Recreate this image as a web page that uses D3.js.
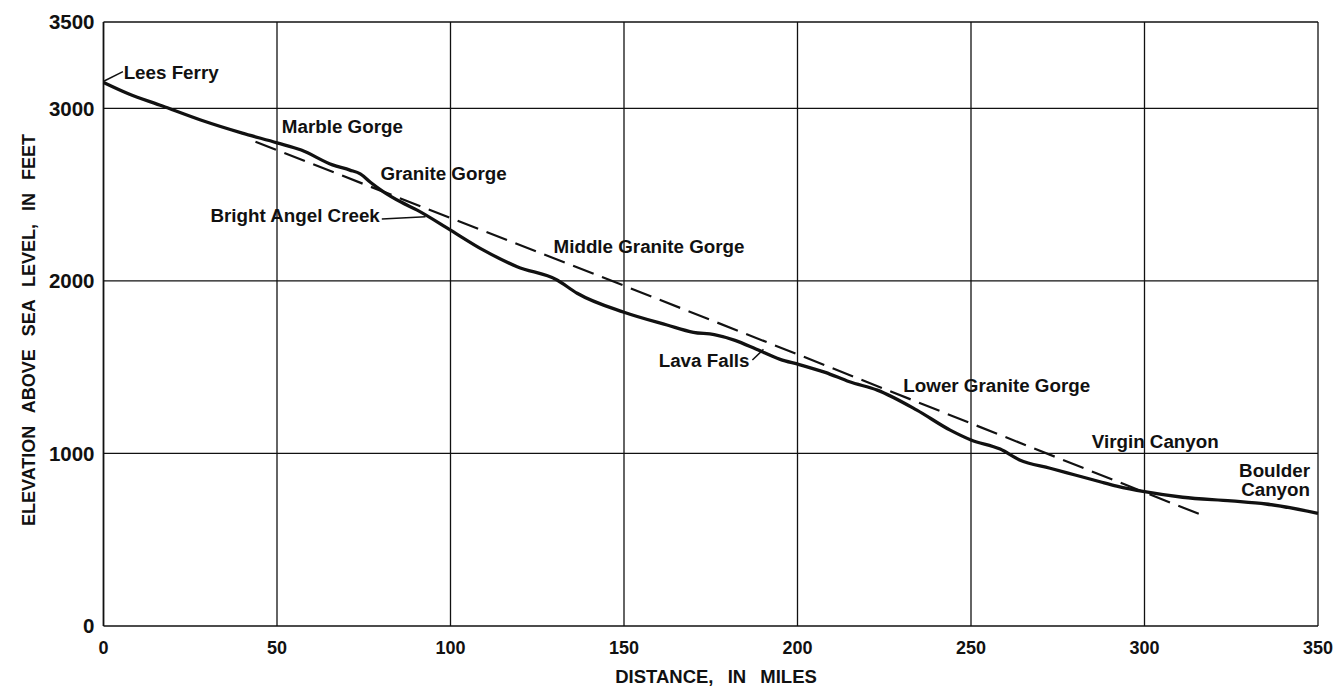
<!DOCTYPE html>
<html>
<head>
<meta charset="utf-8">
<script src="https://cdn.jsdelivr.net/npm/d3@7/dist/d3.min.js"></script>
<style>
  html, body { margin: 0; padding: 0; background: #fff; }
  svg text { font-family: "Liberation Sans", Arial, Helvetica, sans-serif; font-weight: bold; fill: #111; }
</style>
</head>
<body>
<svg id="chart" width="1343" height="688"></svg>
<script>
// River profile: distance below Lees Ferry (miles) and water-surface elevation (feet)
const riverMiles = [0, 7, 17, 28, 40, 50, 57, 66, 71, 74, 77, 80.7, 85.6, 90.4, 100, 109.5, 119.2, 130.7, 136.5, 150, 162.4, 170, 176, 182, 188, 195, 200.5, 208, 215, 223, 234.4, 244, 250, 258.4, 264, 272.8, 280, 287.2, 292, 300, 311, 325, 335, 350];
const riverElev  = [3150, 3086, 3013, 2932, 2856, 2800, 2758, 2672, 2642, 2620, 2570, 2516, 2458, 2410, 2294, 2178, 2082, 2005, 1928, 1818, 1744, 1702, 1688, 1655, 1605, 1545, 1515, 1470, 1415, 1367, 1251, 1135, 1078, 1025, 962, 914, 875, 836, 811, 778, 746, 725, 707, 653];

// Average-gradient line (dashed)
const gradeMiles = [43.8, 150, 200.8, 250, 316.5];
const gradeElev  = [2806, 1972, 1568, 1174, 643];

// Axis ticks
const xTicks = [0, 50, 100, 150, 200, 250, 300, 350];
const yTicks = [0, 1000, 2000, 3000, 3500];
const yGrid  = [1000, 2000, 3000];

// Place names along the river
const placeNames = ["Lees Ferry", "Marble Gorge", "Granite Gorge", "Bright Angel Creek",
                    "Middle Granite Gorge", "Lava Falls", "Lower Granite Gorge",
                    "Virgin Canyon", "Boulder Canyon"];

const svg = d3.select("#chart");
const x = d3.scaleLinear().domain([0, 350]).range([103.5, 1318]);
const y = d3.scaleLinear().domain([0, 3500]).range([626, 22]);

const grid = svg.append("g").attr("stroke", "#111").attr("stroke-width", 1.3).attr("fill", "none");

// vertical grid lines + frame sides
grid.selectAll("line.v").data(xTicks).join("line")
  .attr("x1", d => x(d)).attr("x2", d => x(d))
  .attr("y1", y(0)).attr("y2", y(3500))
  .attr("stroke-width", d => (d === 0 ? 1.8 : 1.3));

// horizontal grid lines
grid.selectAll("line.h").data(yGrid).join("line")
  .attr("x1", x(0)).attr("x2", x(350))
  .attr("y1", d => y(d)).attr("y2", d => y(d));

// top and bottom of frame
grid.selectAll("line.f").data([0, 3500]).join("line")
  .attr("x1", x(0)).attr("x2", x(350))
  .attr("y1", d => y(d)).attr("y2", d => y(d))
  .attr("stroke-width", 1.6);

// tick labels
svg.append("g").selectAll("text").data(xTicks).join("text")
  .attr("x", d => x(d)).attr("y", y(0) + 28)
  .attr("text-anchor", "middle").attr("font-size", 18)
  .text(d => d);

svg.append("g").selectAll("text").data(yTicks).join("text")
  .attr("x", x(0) - 9).attr("y", d => y(d)).attr("dy", "0.36em")
  .attr("text-anchor", "end").attr("font-size", 20.5)
  .text(d => d);

// axis titles
svg.append("text")
  .attr("x", 716).attr("y", 683)
  .attr("text-anchor", "middle").attr("font-size", 18.5)
  .attr("word-spacing", 9)
  .text("DISTANCE, IN MILES");

svg.append("text")
  .attr("transform", `translate(35, 330) rotate(-90)`)
  .attr("text-anchor", "middle").attr("font-size", 18)
  .attr("word-spacing", 8)
  .text("ELEVATION ABOVE SEA LEVEL, IN FEET");

// river profile
const river = riverMiles.map((m, i) => [m, riverElev[i]]);
const grade = gradeMiles.map((m, i) => [m, gradeElev[i]]);
const line = d3.line().x(d => x(d[0])).y(d => y(d[1])).curve(d3.curveMonotoneX);

svg.append("path").datum(grade)
  .attr("d", d3.line().x(d => x(d[0])).y(d => y(d[1])))
  .attr("fill", "none").attr("stroke", "#111").attr("stroke-width", 2.2)
  .attr("stroke-dasharray", "22 9");

svg.append("path").datum(river)
  .attr("d", line)
  .attr("fill", "none").attr("stroke", "#111").attr("stroke-width", 3.3)
  .attr("stroke-linejoin", "round");

// place-name annotations (data coordinates)
const labels = svg.append("g").attr("font-size", 18.8);
function label(name, mi, ft, anchor) {
  return labels.append("text").attr("x", x(mi)).attr("y", y(ft))
    .attr("text-anchor", anchor || "start").text(name);
}
function leader(m1, f1, m2, f2) {
  labels.append("line")
    .attr("x1", x(m1)).attr("y1", y(f1)).attr("x2", x(m2)).attr("y2", y(f2))
    .attr("stroke", "#111").attr("stroke-width", 1.5);
}

label(placeNames[0], 5.8, 3170);
leader(0.2, 3158, 5.6, 3212);
label(placeNames[1], 51.4, 2857);
label(placeNames[2], 79.8, 2584);
const bac = label(placeNames[3], 30.8, 2341);
const bacEnd = x(30.8) + bac.node().getComputedTextLength() + 2;
labels.append("line")
  .attr("x1", bacEnd).attr("y1", y(2358)).attr("x2", x(92.8)).attr("y2", y(2372))
  .attr("stroke", "#111").attr("stroke-width", 1.5);
label(placeNames[4], 129.7, 2160);
label(placeNames[5], 160, 1503);
leader(187, 1541, 190.2, 1603);
label(placeNames[6], 230.5, 1358);
label(placeNames[7], 284.8, 1030);
label("Boulder", 347.7, 865, "end");
label("Canyon", 347.7, 753, "end");
</script>
</body>
</html>
